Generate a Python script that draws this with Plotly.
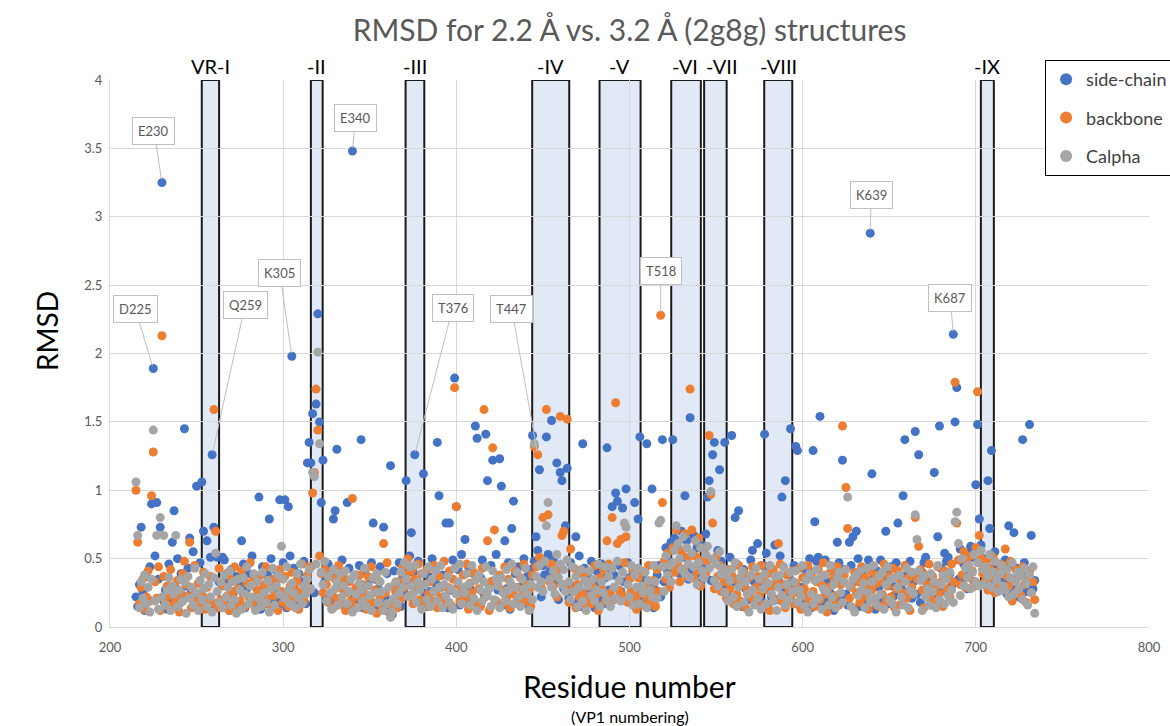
import plotly.graph_objects as go

START = 215

SIDECHAIN_BASE = """
22 15 31 48 26 12 37 20 44 18
29 52 16 35 24 41 19 27 13 46
21 33 14 28 50 17 39 23 11 30
43 19 26 55 15 34 22 47 13 38
20 45 14 31 25 40 16 28 36 18
27 49 17 33 12 42 24 19 37 15
31 22 46 14 28 39 18 52 21 16
35 24 13 44 29 17 38 25 50 19
26 41 15 32 20 47 23 14 36 28
18 43 27 15 39 22 33 48 17 42
30 55 38 25 44 35 28 50 41 33
22 46 18 37 27 15 42 31 20 49
16 34 25 43 13 29 21 38 17 45
26 14 40 23 31 18 47 20 35 12
28 44 16 33 22 39 11 26 09 41
19 30 47 15 36 25 43 33 52 28
40 21 34 48 18 31 45 24 15 37
26 50 19 32 43 17 29 38 22 46
14 35 27 49 20 31 42 16 53 25
33 18 44 28 21 39 26 47 15 36
49 24 17 38 30 45 19 34 53 27
22 41 16 35 28 47 13 32 24 39
18 44 29 21 50 26 37 15 42 31
48 27 56 35 22 45 38 30 53 41
25 50 33 46 20 39 55 28 43 34
21 47 30 18 39 26 52 15 34 43
24 37 19 48 28 14 41 31 22 46
17 36 50 27 43 21 38 55 30 45
26 52 33 19 47 36 24 41 15 38
29 44 17 35 23 49 20 32 40 14
27 38 45 22 50 33 58 41 48 62
36 65 44 57 39 70 51 46 63 35
55 42 67 38 58 47 32 60 44 68
40 53 34 62 45 29 56 38 48 31
44 25 39 51 18 33 27 46 21 36
15 42 28 37 20 49 24 33 17 40
31 19 45 26 36 14 43 22 30 48
20 34 52 17 27 41 24 38 13 32
45 22 35 16 29 43 19 37 26 50
14 31 40 23 46 28 18 35 49 21
33 25 44 12 38 27 47 19 30 42
24 16 37 45 21 33 28 50 15 39
27 43 18 31 46 22 36 13 41 29
49 20 34 25 39 17 44 30 23 47
19 35 28 42 15 38 26 48 21 33
44 24 36 18 40 29 51 22 34 16
31 45 25 38 20 43 27 35 48 23
39 30 52 26 41 35 57 32 46 38
28 54 40 60 33 48 37 45 62 42
50 35 58 39 47 30 55 36 44 27
41 33 49 24 38 45 29 52 35 43
22 40 31 47 26 36 19 44 28 34
"""

BACKBONE_BASE = """
38 24 17 29 35 13 22 41 19 27
15 33 21 44 12 26 37 18 30 23
42 16 28 20 34 11 25 39 17 31
22 36 14 27 45 19 32 16 24 40
13 29 21 37 18 33 25 14 43 20
30 17 39 23 12 35 26 44 16 28
19 41 24 15 32 22 47 18 36 13
27 20 38 16 31 44 21 29 14 35
23 33 12 42 26 18 37 24 15 30
40 21 28 34 13 25 46 19 31 38
27 44 33 48 36 29 52 39 25 42
31 18 40 24 14 35 21 45 17 28
36 12 25 33 19 41 15 29 22 38
16 31 24 13 37 20 44 18 27 10
34 22 15 39 25 47 17 08 12 30
26 14 33 21 44 29 38 50 23 41
17 35 28 46 20 39 31 15 42 24
33 19 45 26 14 37 22 30 48 18
29 41 16 35 23 44 31 19 27 38
21 46 13 32 25 40 18 36 28 15
43 29 22 37 12 33 26 45 19 31
38 16 27 44 21 35 14 30 24 41
29 17 36 23 46 19 31 27 15 38
25 44 34 51 29 37 48 24 40 33
46 30 38 22 42 35 27 49 31 44
18 35 27 43 14 31 22 39 25 16
40 21 33 17 29 45 24 12 36 28
42 19 31 46 25 37 20 44 33 27
39 23 47 30 18 35 26 42 21 13
36 24 41 16 30 22 45 19 27 34
15 42 26 37 20 48 35 54 29 46
58 40 63 45 33 55 42 68 37 51
44 60 36 52 41 65 30 49 57 39
48 35 56 42 28 51 37 45 26 40
33 21 42 28 38 17 35 24 45 19
31 40 14 27 36 22 44 18 29 37
23 45 16 33 27 39 12 30 42 20
35 24 46 19 31 14 38 27 21 41
17 32 25 43 13 36 28 22 45 19
38 26 15 33 42 20 31 47 24 11
29 40 19 35 23 44 16 31 27 38
34 45 21 29 14 40 25 33 18 44
22 36 30 13 41 27 19 38 32 15
35 24 46 18 30 37 22 43 14 28
41 16 33 25 45 21 36 12 29 39
23 35 18 42 27 14 38 31 46 20
37 19 30 44 24 33 15 41 28 36
22 46 33 27 40 49 31 38 55 29
47 36 52 41 30 58 44 35 50 39
33 48 27 43 36 51 25 40 31 46
28 45 22 37 30 48 19 34 42 26
39 23 44 31 18 35 41 25 33 20
"""

CALPHA_BASE = """
26 42 14 33 21 38 17 29 11 35
24 19 45 13 31 22 40 16 27 36
12 30 24 41 15 27 35 19 33 10
37 21 29 16 43 25 12 34 20 28
39 15 31 22 11 36 47 26 18 33
14 38 22 29 41 16 33 20 10 35
27 13 36 24 44 17 30 22 39 12
33 21 15 40 25 18 34 11 28 43
16 30 38 24 13 35 21 44 27 17
32 25 14 39 21 46 17 30 24 35
42 28 37 22 46 33 26 40 31 48
19 37 25 13 42 28 33 16 39 22
30 41 17 26 35 11 38 24 14 32
27 19 43 15 30 23 12 36 25 39
18 33 26 12 40 17 29 07 11 21
33 17 25 40 29 47 35 22 44 30
24 45 18 33 27 13 39 31 20 44
15 35 26 41 19 29 45 14 31 23
37 18 28 13 43 24 33 46 17 29
25 39 31 16 45 21 34 12 38 27
19 33 44 23 28 15 41 20 35 30
14 36 25 19 42 27 33 46 17 29
40 22 15 35 28 43 24 12 31 20
44 37 29 45 33 26 48 38 22 35
29 41 24 53 36 46 31 42 26 49
33 20 44 26 37 15 29 42 19 34
12 30 41 23 35 19 27 46 15 33
25 44 20 37 15 43 29 21 48 34
19 40 27 35 31 22 45 16 38 29
43 17 30 25 40 14 34 27 22 45
33 21 39 30 44 26 52 38 45 33
47 56 34 61 50 42 66 39 58 46
36 54 44 63 31 47 58 41 36 53
59 43 37 50 34 46 30 55 39 43
25 38 19 34 42 22 47 15 29 36
41 18 33 24 11 38 27 16 43 21
35 13 28 39 17 32 45 24 19 37
12 29 38 23 44 16 31 20 40 26
33 41 18 27 22 45 15 34 11 39
24 17 34 42 21 36 13 28 38 26
16 45 22 31 14 36 40 25 18 33
42 20 30 15 35 11 38 23 41 27
32 14 43 25 19 33 45 21 16 37
24 40 13 31 44 20 35 17 36 11
29 38 22 16 33 43 14 27 40 24
30 18 41 34 12 37 22 28 16 39
26 33 14 45 20 31 38 17 35 23
40 27 18 44 33 36 23 50 30 43
36 45 28 40 53 33 47 30 56 42
31 44 37 53 29 40 48 34 26 39
45 30 27 42 22 36 47 24 33 40
28 37 20 43 32 16 38 25 44 10
"""

SIDECHAIN_PEAKS = {
    218: 0.73, 224: 0.90, 225: 1.89, 227: 0.91, 229: 0.73, 230: 3.25, 236: 0.62,
    237: 0.85, 243: 1.45, 246: 0.65, 250: 1.03, 253: 1.06, 254: 0.70, 256: 0.63,
    258: 0.51, 259: 1.26, 260: 0.73, 262: 0.51, 263: 0.33, 265: 0.51, 276: 0.63,
    286: 0.95, 292: 0.79, 298: 0.93, 301: 0.93, 303: 0.88, 304: 0.52, 305: 1.98,
    314: 1.20, 315: 1.35, 316: 1.20, 317: 1.56, 319: 1.63, 320: 2.29, 321: 1.50,
    322: 0.91, 323: 1.22, 329: 0.79, 330: 0.85, 331: 1.30, 337: 0.91, 340: 3.48,
    345: 1.37, 352: 0.76, 358: 0.73, 362: 1.18, 371: 1.07, 374: 0.69, 376: 1.26,
    381: 1.12, 389: 1.35, 390: 0.96, 394: 0.76, 396: 0.76, 399: 1.82, 400: 0.88,
    405: 0.64, 411: 1.47, 412: 1.38, 417: 1.41, 418: 1.07, 421: 1.22, 425: 1.23,
    426: 1.03, 428: 0.63, 432: 0.72, 433: 0.92, 444: 1.40, 446: 0.66, 448: 1.15,
    452: 1.39, 455: 1.51, 458: 1.20, 460: 1.13, 461: 1.07, 463: 0.74, 464: 1.16,
    469: 0.66, 473: 1.34, 487: 1.31, 490: 0.88, 492: 0.98, 493: 0.92, 496: 0.87,
    498: 1.01, 503: 0.91, 505: 0.79, 506: 1.39, 510: 1.34, 513: 1.01, 519: 1.37,
    525: 1.37, 532: 0.96, 535: 1.53, 545: 0.95, 546: 1.07, 548: 1.26, 549: 1.35,
    552: 1.15, 555: 1.35, 559: 1.40, 561: 0.80, 563: 0.85, 571: 0.56, 574: 0.61,
    578: 1.41, 579: 0.54, 584: 0.60, 588: 0.95, 590: 1.07, 593: 1.45, 596: 1.32,
    597: 1.29, 603: 0.43, 606: 1.29, 607: 0.77, 608: 0.48, 609: 0.51, 610: 1.54,
    620: 0.62, 623: 1.22, 627: 0.62, 629: 0.66, 631: 0.70, 638: 0.49, 639: 2.88,
    640: 1.12, 648: 0.70, 655: 0.76, 658: 0.96, 659: 1.37, 665: 1.43, 667: 1.26,
    670: 0.47, 676: 1.13, 678: 0.66, 679: 1.47, 682: 0.54, 684: 0.51, 687: 2.14,
    688: 1.50, 689: 1.75, 697: 0.59, 698: 0.51, 700: 1.04, 701: 1.48, 702: 0.79,
    703: 0.60, 707: 1.07, 708: 0.72, 709: 1.29, 714: 0.44, 719: 0.74, 722: 0.69,
    727: 1.37, 731: 1.48, 732: 0.67,
}

BACKBONE_PEAKS = {
    215: 1.00, 216: 0.62, 224: 0.96, 225: 1.28, 230: 2.13, 243: 0.48, 246: 0.62,
    260: 1.59, 261: 0.70, 317: 0.98, 318: 1.13, 319: 1.74, 320: 1.44, 340: 0.94,
    358: 0.61, 399: 1.75, 400: 0.88, 416: 1.59, 418: 0.63, 421: 1.31, 422: 0.71,
    445: 1.32, 447: 1.26, 450: 0.80, 452: 1.59, 453: 0.82, 460: 1.54, 461: 0.67,
    462: 0.70, 464: 1.52, 466: 0.57, 487: 0.63, 490: 0.80, 492: 1.64, 493: 0.61,
    495: 0.64, 498: 0.66, 518: 2.28, 519: 0.91, 527: 0.71, 535: 1.74, 536: 0.71,
    546: 1.40, 547: 0.97, 548: 0.76, 586: 0.61, 623: 1.47, 625: 1.02, 626: 0.72,
    665: 0.80, 667: 0.59, 688: 1.79, 689: 0.76, 701: 1.72, 702: 0.67, 717: 0.57,
}

CALPHA_PEAKS = {
    215: 1.06, 216: 0.67, 225: 1.44, 227: 0.67, 229: 0.80, 231: 0.67, 238: 0.67,
    261: 0.54, 299: 0.59, 317: 1.13, 318: 1.10, 320: 2.01, 321: 1.34, 445: 1.34,
    452: 0.74, 453: 0.91, 497: 0.76, 498: 0.73, 517: 0.76, 518: 0.78, 527: 0.74,
    547: 0.99, 626: 0.95, 665: 0.82, 666: 0.64, 688: 0.77, 689: 0.84, 690: 0.61,
}

REGION_NAMES = ["VR-I", "-II", "-III", "-IV", "-V", "-VI", "-VII", "-VIII", "-IX"]
REGION_START = [253, 316, 370.7, 443.8, 482.7, 524.1, 543.1, 577.8, 702.9]
REGION_END = [263, 322.8, 381.5, 465.2, 506.4, 541.2, 556.1, 594.0, 710.4]
REGION_LABEL_X = [258, 319.4, 376.1, 454.5, 494.5, 532.2, 553.5, 585.9, 706.6]

CALLOUT_LABELS = ["E230", "E340", "D225", "Q259", "K305", "T376", "T447", "T518", "K639", "K687"]
CALLOUT_X = [230, 340, 225, 259, 305, 376, 447, 518, 639, 687]
CALLOUT_Y = [3.25, 3.48, 1.89, 1.26, 1.98, 1.26, 1.26, 2.28, 2.88, 2.14]
CALLOUT_AX = [-8, 3, -18, 33, -12, 38, -26, 0, 1, -3]
CALLOUT_AY = [-52, -33, -60, -150, -83, -147, -146, -44, -38, -36]


def build(base, peaks):
    vals = [int(v) / 100 for v in base.split()]
    xs = [START + i for i in range(len(vals))]
    for r, v in peaks.items():
        i = r - START
        if 0 <= i < len(vals):
            vals[i] = v
    return xs, vals


series = [
    ("side-chain", SIDECHAIN_BASE, SIDECHAIN_PEAKS, "#4472C4"),
    ("backbone", BACKBONE_BASE, BACKBONE_PEAKS, "#ED7D31"),
    ("Calpha", CALPHA_BASE, CALPHA_PEAKS, "#A5A5A5"),
]

FONT = "Lato, 'Open Sans', sans-serif"
fig = go.Figure()
for name, base, peaks, color in series:
    xs, ys = build(base, peaks)
    fig.add_trace(go.Scatter(
        x=xs, y=ys, mode="markers", name=name, legendgroup=name,
        marker=dict(color=color, size=9, line=dict(width=0)),
    ))

for s, e in zip(REGION_START, REGION_END):
    fig.add_shape(type="rect", xref="x", yref="y", x0=s, x1=e, y0=0, y1=4,
                  fillcolor="#E2E9F6", line=dict(color="#1A1A1A", width=2), layer="below")

annotations = []
for name, lx in zip(REGION_NAMES, REGION_LABEL_X):
    annotations.append(dict(x=lx, xref="x", y=1.0256, yref="paper",
                            text=name, showarrow=False, yanchor="middle",
                            font=dict(family=FONT, size=20, color="#000000")))

for lab, x, y, ax, ay in zip(CALLOUT_LABELS, CALLOUT_X, CALLOUT_Y, CALLOUT_AX, CALLOUT_AY):
    annotations.append(dict(x=x, y=y, xref="x", yref="y", text=lab, showarrow=True,
                            ax=ax, ay=ay, arrowhead=0, arrowwidth=1, arrowcolor="#BFBFBF",
                            standoff=3, bgcolor="#FFFFFF", bordercolor="#BFBFBF",
                            borderwidth=1, borderpad=5,
                            font=dict(family=FONT, size=13, color="#595959")))

annotations += [
    dict(x=-0.079, y=0.541, xref="paper", yref="paper", text="RMSD", textangle=-90,
         showarrow=False, font=dict(family=FONT, size=28, color="#000000")),
    dict(x=0.5, y=-0.108, xref="paper", yref="paper", text="Residue number",
         showarrow=False, yanchor="middle", font=dict(family=FONT, size=30, color="#000000")),
    dict(x=0.5, y=-0.163, xref="paper", yref="paper", text="(VP1 numbering)",
         showarrow=False, yanchor="middle", font=dict(family=FONT, size=16, color="#000000")),
]

fig.update_layout(
    width=1170, height=726,
    margin=dict(l=110, r=21, t=80, b=99, autoexpand=False),
    paper_bgcolor="#FFFFFF", plot_bgcolor="#FFFFFF",
    title=dict(text="RMSD for 2.2 Å vs. 3.2 Å (2g8g) structures", x=0.5, xref="paper",
               xanchor="center", y=1 - 30 / 726, yanchor="middle",
               font=dict(family=FONT, size=30, color="#595959")),
    legend=dict(x=0.9, y=1.0366, xanchor="left", yanchor="top", bgcolor="#FFFFFF",
                bordercolor="#000000", borderwidth=1, tracegroupgap=12,
                itemsizing="constant",
                font=dict(family=FONT, size=18, color="#404040")),
    annotations=annotations,
    showlegend=True,
)
fig.update_xaxes(range=[200, 800], dtick=100, tick0=200, showgrid=True, gridcolor="#D9D9D9",
                 gridwidth=1, zeroline=False, showline=True, linecolor="#D9D9D9",
                 ticklabelstandoff=8,
                 tickfont=dict(family=FONT, size=13, color="#595959"), ticks="")
fig.update_yaxes(range=[0, 4], dtick=0.5, tick0=0, showgrid=True, gridcolor="#D9D9D9",
                 gridwidth=1, zeroline=False, showline=True, linecolor="#D9D9D9",
                 ticklabelstandoff=4,
                 tickfont=dict(family=FONT, size=13, color="#595959"), ticks="")

fig.write_html("out.html")
